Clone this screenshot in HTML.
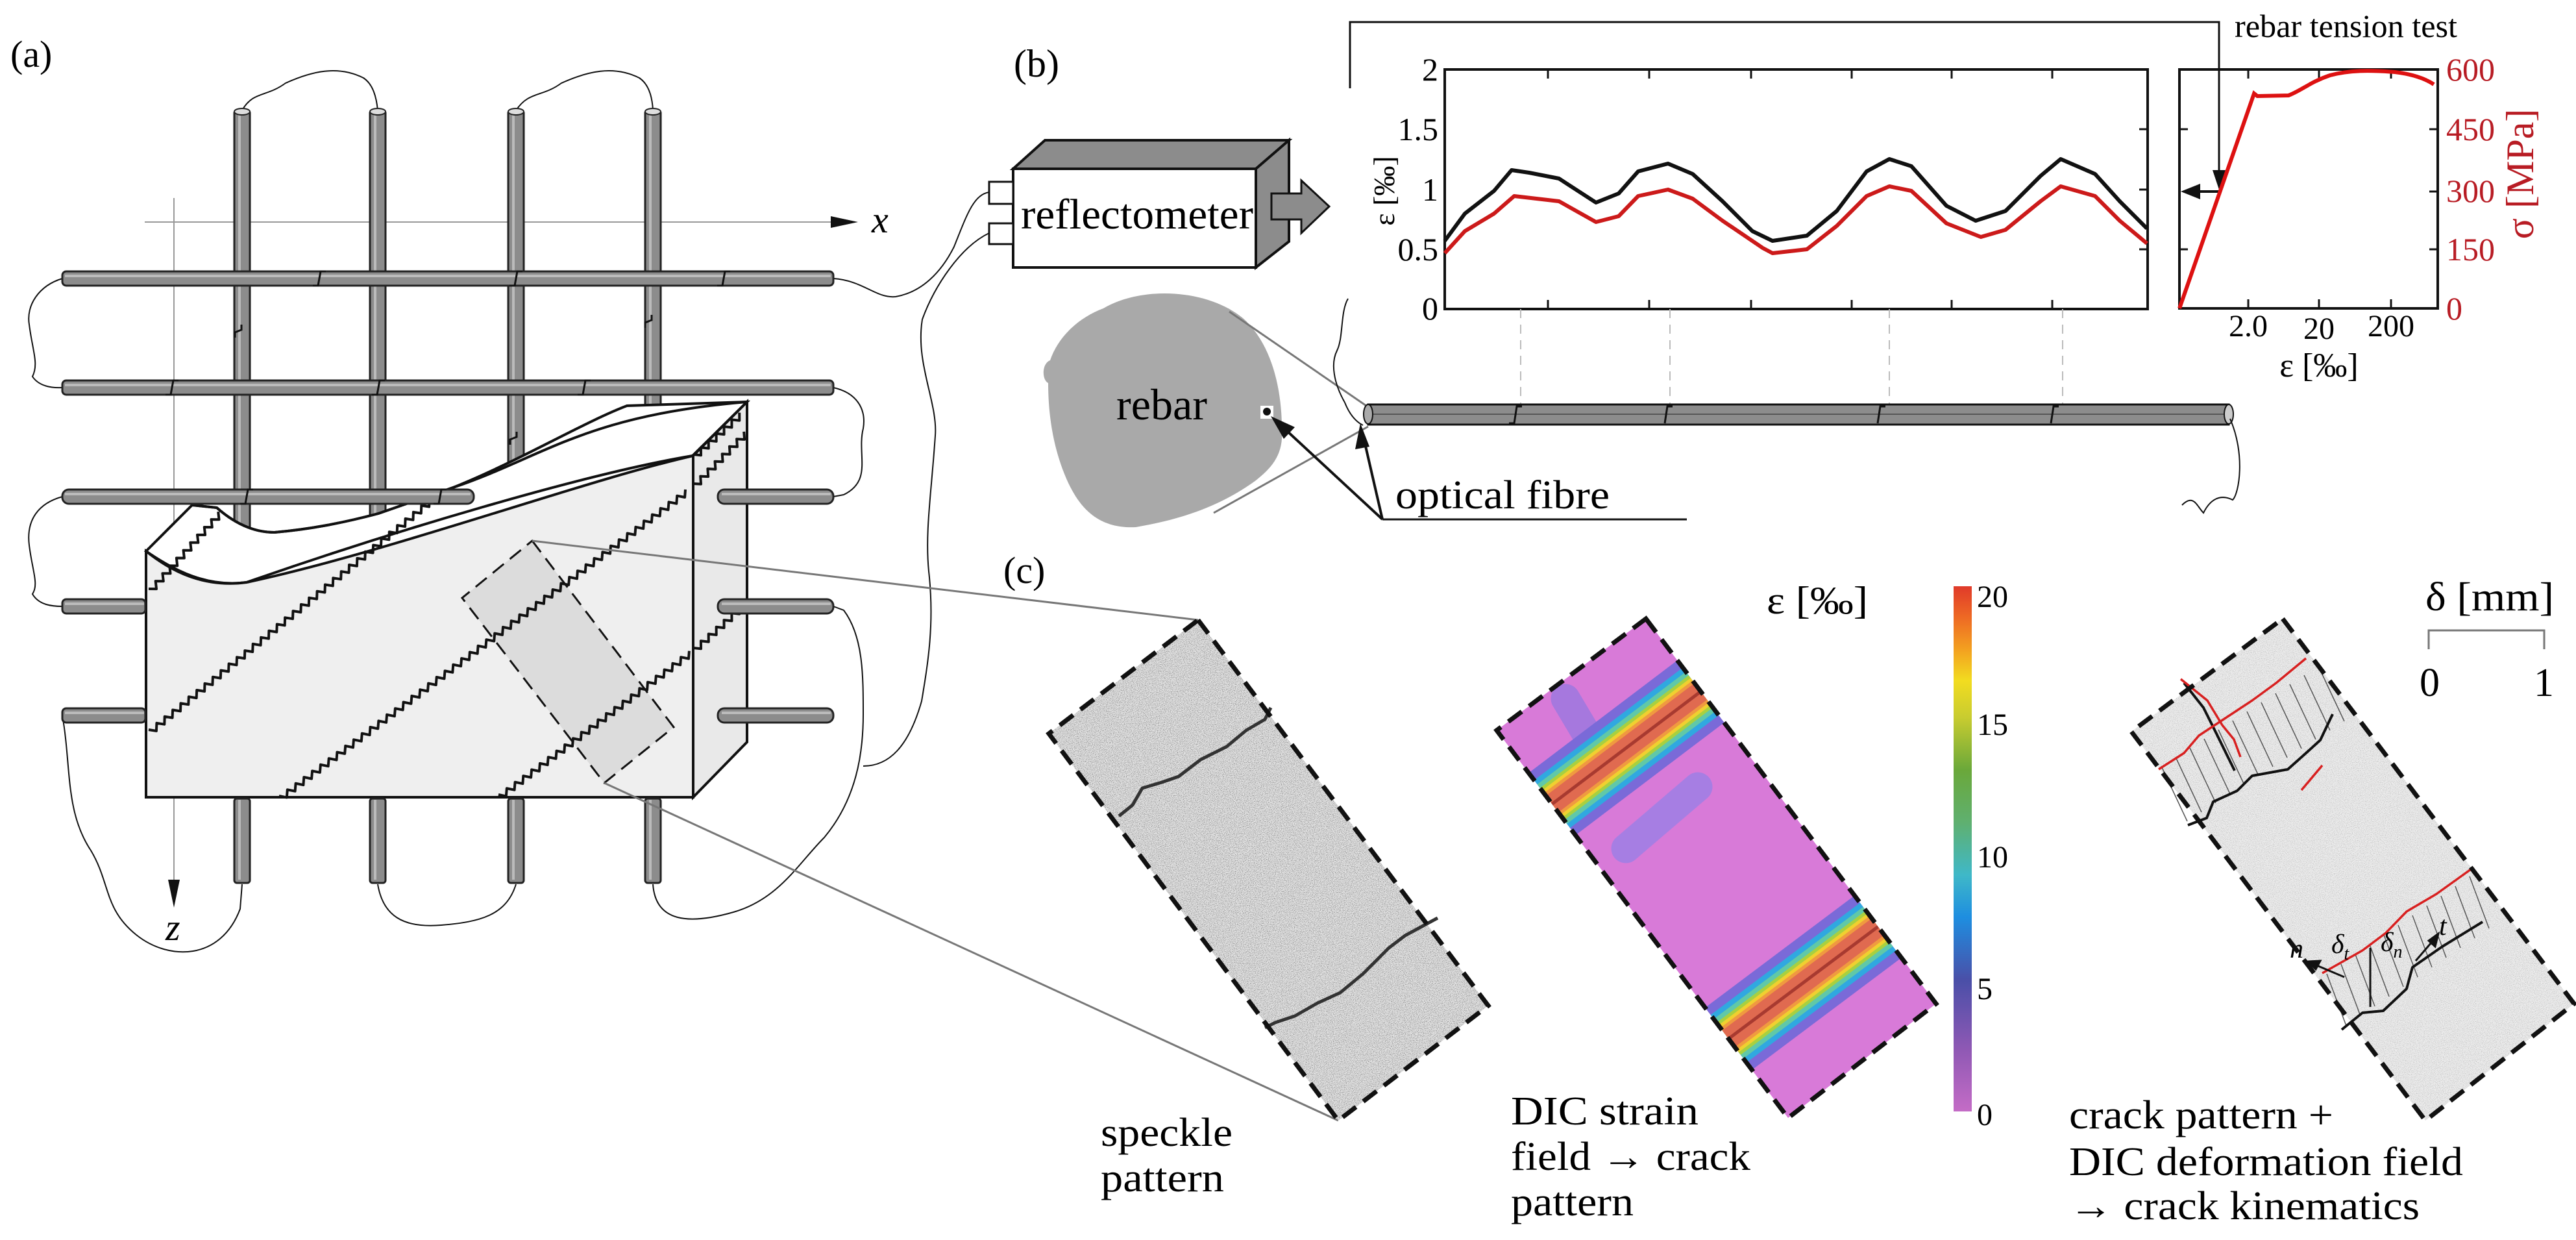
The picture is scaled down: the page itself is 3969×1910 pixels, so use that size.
<!DOCTYPE html>
<html><head><meta charset="utf-8"><style>
html,body{margin:0;padding:0;background:#fff;}
svg{display:block;}
</style></head><body>
<svg id="s" width="3969" height="1910" viewBox="0 0 3969 1910" xmlns="http://www.w3.org/2000/svg" font-family="'Liberation Serif','DejaVu Serif',serif">
<defs>
<linearGradient id="cb" x1="0" y1="1" x2="0" y2="0">
<stop offset="0" stop-color="#c46cc6"/><stop offset="0.12" stop-color="#8e58b4"/>
<stop offset="0.25" stop-color="#4a4fa8"/><stop offset="0.37" stop-color="#1e8ee0"/>
<stop offset="0.45" stop-color="#3fb8c8"/><stop offset="0.55" stop-color="#5fb070"/>
<stop offset="0.65" stop-color="#6aa83a"/><stop offset="0.75" stop-color="#c8cc30"/>
<stop offset="0.82" stop-color="#f2dc20"/><stop offset="0.88" stop-color="#f3a020"/>
<stop offset="0.94" stop-color="#ee6a24"/><stop offset="1" stop-color="#e03a2a"/>
</linearGradient>
<clipPath id="dicclip"><polygon points="2536,953 2983,1546 2755,1722 2306,1125"/></clipPath>
<filter id="noise" x="0" y="0" width="100%" height="100%">
<feTurbulence type="fractalNoise" baseFrequency="0.9" numOctaves="1" seed="3"/>
<feColorMatrix type="matrix" values="0 0 0 0 0  0 0 0 0 0  0 0 0 0 0  0 0 0 -3.2 1.7"/>
<feComposite in2="SourceGraphic" operator="in"/>
</filter>
</defs>

<!-- ===== (a) ===== -->
<text x="16" y="103" font-size="58">(a)</text>
<line x1="223" y1="342" x2="1300" y2="342" stroke="#999" stroke-width="2"/>
<polygon points="1280,333 1322,342 1280,351" fill="#111"/>
<text x="1343" y="358" font-size="58" font-style="italic">x</text>
<line x1="268" y1="305" x2="268" y2="1370" stroke="#999" stroke-width="2"/>
<polygon points="259,1355 268,1398 277,1355" fill="#111"/>
<text x="255" y="1448" font-size="58" font-style="italic">z</text>

<g fill="none" stroke="#111" stroke-width="2">
<path d="M373,170 C390,140 410,150 440,128 C480,110 520,100 560,120 C575,130 580,150 582,170"/>
<path d="M795,170 C815,140 835,150 865,128 C905,110 945,100 985,120 C1000,130 1005,150 1006,170"/>
<path d="M96,429 C60,440 40,470 45,500 C50,540 60,560 50,580 C60,595 80,598 96,597"/>
<path d="M96,765 C60,775 40,800 45,840 C50,880 60,900 50,915 C60,932 80,934 96,934"/>
<path d="M96,1102 C110,1180 100,1250 140,1310 C170,1360 160,1400 210,1440 C260,1480 340,1480 370,1400 L373,1362"/>
<path d="M582,1362 C590,1410 620,1430 680,1425 C740,1420 780,1410 795,1362"/>
<path d="M1006,1362 C1010,1420 1060,1425 1130,1405 C1200,1385 1230,1330 1270,1290 C1320,1230 1330,1160 1330,1100 C1330,1040 1330,980 1300,940 L1284,934"/>
<path d="M1284,597 C1320,605 1335,630 1330,660 C1320,700 1345,740 1300,762 L1284,765"/>
<path d="M1284,429 C1330,432 1350,460 1380,457 C1420,450 1450,420 1470,380 C1490,330 1500,300 1524,296"/>
<path d="M1524,359 C1480,380 1440,440 1421,492 C1410,560 1445,620 1441,671 C1435,760 1425,820 1431,880 C1440,960 1430,1020 1420,1080 C1400,1150 1370,1180 1330,1180"/>
</g>

<g fill="#8c8c8c" stroke="#222" stroke-width="3">
<rect x="361" y="170" width="24" height="686" rx="4"/>
<rect x="570" y="170" width="24" height="648" rx="4"/>
<rect x="783" y="170" width="24" height="574" rx="4"/>
<rect x="994" y="170" width="24" height="506" rx="4"/>
</g>
<g stroke="#bbb" stroke-width="4">
<line x1="369" y1="175" x2="369" y2="850"/><line x1="578" y1="175" x2="578" y2="812"/>
<line x1="791" y1="175" x2="791" y2="738"/><line x1="1002" y1="175" x2="1002" y2="670"/>
</g>
<g fill="#ddd" stroke="#222" stroke-width="2">
<ellipse cx="373" cy="172" rx="12" ry="5"/><ellipse cx="582" cy="172" rx="12" ry="5"/>
<ellipse cx="795" cy="172" rx="12" ry="5"/><ellipse cx="1006" cy="172" rx="12" ry="5"/>
</g>

<!-- box -->
<path d="M225,849 L296,778 L334,782 C360,805 390,820 423,820 C480,815 530,805 583,791 L698,751 C800,710 900,650 966,625 L1151,619 L1067,702 C900,730 600,820 380,897 C320,905 270,880 225,849 Z" fill="#fff" stroke="#111" stroke-width="4"/>
<path d="M225,849 C270,885 320,905 380,897 C600,850 900,740 1068,702 L1068,1228 L225,1228 Z" fill="#efefef" stroke="#111" stroke-width="4"/>
<path d="M1068,702 L1151,619 L1151,1143 L1068,1228 Z" fill="#e9e9e9" stroke="#111" stroke-width="4"/>
<path d="M296,778 L334,782 C360,805 390,820 423,820 C480,815 530,805 583,791 L698,751 C838,704 900,640 1151,619" fill="none" stroke="#111" stroke-width="4"/>
<polygon points="820,833 1038,1120 931,1206 712,921" fill="#dcdcdc" stroke="#111" stroke-width="3" stroke-dasharray="22,12"/>
<g id="zz" fill="none" stroke="#111" stroke-width="4" stroke-linejoin="round"></g>

<g fill="#8c8c8c" stroke="#222" stroke-width="3">
<rect x="361" y="1230" width="24" height="130" rx="4"/><rect x="570" y="1230" width="24" height="130" rx="4"/>
<rect x="783" y="1230" width="24" height="130" rx="4"/><rect x="994" y="1230" width="24" height="130" rx="4"/>
</g>
<g stroke="#bbb" stroke-width="4">
<line x1="369" y1="1232" x2="369" y2="1355"/><line x1="578" y1="1232" x2="578" y2="1355"/>
<line x1="791" y1="1232" x2="791" y2="1355"/><line x1="1002" y1="1232" x2="1002" y2="1355"/>
</g>

<g fill="#8c8c8c" stroke="#222" stroke-width="3">
<rect x="96" y="418" width="1188" height="22" rx="6"/>
<rect x="96" y="586" width="1188" height="22" rx="6"/>
<rect x="96" y="754" width="634" height="22" rx="10"/>
<rect x="1106" y="754" width="178" height="22" rx="10"/>
<rect x="96" y="923" width="128" height="22" rx="6"/>
<rect x="1106" y="923" width="178" height="22" rx="10"/>
<rect x="96" y="1091" width="128" height="22" rx="6"/>
<rect x="1106" y="1091" width="178" height="22" rx="10"/>
</g>
<g stroke="#bbb" stroke-width="4">
<line x1="100" y1="425" x2="1280" y2="425"/><line x1="100" y1="593" x2="1280" y2="593"/>
<line x1="100" y1="761" x2="725" y2="761"/><line x1="1112" y1="761" x2="1280" y2="761"/>
<line x1="100" y1="930" x2="222" y2="930"/><line x1="1112" y1="930" x2="1280" y2="930"/>
<line x1="100" y1="1098" x2="222" y2="1098"/><line x1="1112" y1="1098" x2="1280" y2="1098"/>
</g>
<g fill="none" stroke="#111" stroke-width="3">
<path d="M482,440 l8,0 l4,-22 l8,0"/><path d="M785,440 l8,0 l4,-22 l8,0"/><path d="M1105,440 l8,0 l4,-22 l8,0"/>
<path d="M255,608 l8,0 l4,-22 l8,0"/><path d="M573,608 l8,0 l4,-22 l8,0"/><path d="M890,608 l8,0 l4,-22 l8,0"/>
<path d="M372,500 l0,8 l-10,4 l0,8"/><path d="M1004,485 l0,8 l-10,4 l0,8"/><path d="M796,665 l0,8 l-10,4 l0,8"/>
<path d="M370,776 l8,0 l4,-22 l8,0"/><path d="M668,776 l8,0 l4,-22 l8,0"/>
</g>
<line x1="820" y1="833" x2="1846" y2="955" stroke="#777" stroke-width="3"/>
<line x1="931" y1="1206" x2="2062" y2="1726" stroke="#777" stroke-width="3"/>

<!-- ===== (b) ===== -->
<text x="1562" y="118" font-size="60">(b)</text>
<polygon points="1561,260 1610,216 1986,216 1935,260" fill="#8c8c8c" stroke="#111" stroke-width="4"/>
<polygon points="1935,260 1986,216 1986,372 1935,412" fill="#8c8c8c" stroke="#111" stroke-width="4"/>
<rect x="1561" y="260" width="374" height="152" fill="#fff" stroke="#111" stroke-width="4"/>
<rect x="1524" y="280" width="37" height="34" fill="#fff" stroke="#111" stroke-width="3"/>
<rect x="1524" y="344" width="37" height="32" fill="#fff" stroke="#111" stroke-width="3"/>
<polygon points="1959,298 2005,298 2005,278 2048,318 2005,359 2005,338 1959,338" fill="#8c8c8c" stroke="#111" stroke-width="3"/>
<text x="1573" y="352" font-size="66" textLength="358" lengthAdjust="spacingAndGlyphs">reflectometer</text>

<polyline points="2080,136 2080,34 3419,34 3419,270" fill="none" stroke="#111" stroke-width="3"/>
<polygon points="3409,262 3429,262 3419,292" fill="#111"/>
<line x1="3419" y1="295" x2="3378" y2="295" stroke="#111" stroke-width="4"/>
<polygon points="3360,295 3390,283 3390,307" fill="#111"/>
<text x="3443" y="57" font-size="50" textLength="343" lengthAdjust="spacingAndGlyphs">rebar tension test</text>

<rect x="2226" y="107" width="1083" height="369" fill="none" stroke="#111" stroke-width="4"/>
<g stroke="#111" stroke-width="3">
<line x1="2385" y1="476" x2="2385" y2="462"/><line x1="2541" y1="476" x2="2541" y2="462"/><line x1="2698" y1="476" x2="2698" y2="462"/><line x1="2853" y1="476" x2="2853" y2="462"/><line x1="3007" y1="476" x2="3007" y2="462"/><line x1="3162" y1="476" x2="3162" y2="462"/>
<line x1="2385" y1="107" x2="2385" y2="121"/><line x1="2541" y1="107" x2="2541" y2="121"/><line x1="2698" y1="107" x2="2698" y2="121"/><line x1="2853" y1="107" x2="2853" y2="121"/><line x1="3007" y1="107" x2="3007" y2="121"/><line x1="3162" y1="107" x2="3162" y2="121"/>
<line x1="3309" y1="199" x2="3296" y2="199"/><line x1="3309" y1="292" x2="3296" y2="292"/><line x1="3309" y1="384" x2="3296" y2="384"/>
</g>
<g font-size="50" text-anchor="end">
<text x="2216" y="124">2</text><text x="2216" y="216">1.5</text><text x="2216" y="309">1</text><text x="2216" y="401">0.5</text><text x="2216" y="492">0</text>
</g>
<text transform="translate(2148,294) rotate(-90)" font-size="46" text-anchor="middle">ε [‰]</text>
<g stroke="#bbb" stroke-width="2" stroke-dasharray="14,10">
<line x1="2343" y1="476" x2="2343" y2="625"/><line x1="2573" y1="476" x2="2573" y2="625"/>
<line x1="2911" y1="476" x2="2911" y2="625"/><line x1="3178" y1="476" x2="3178" y2="625"/>
</g>
<polyline fill="none" stroke="#111" stroke-width="6" stroke-linejoin="round" points="2226,371 2257,329 2302,294 2329,262 2356,266 2402,275 2459,312 2494,298 2524,264 2570,252 2608,268 2654,310 2700,356 2731,371 2784,363 2830,325 2876,264 2911,245 2945,256 2999,317 3044,340 3090,325 3144,271 3175,245 3228,268 3266,310 3308,352"/>
<polyline fill="none" stroke="#cc1a1a" stroke-width="6" stroke-linejoin="round" points="2226,390 2257,356 2302,329 2333,302 2402,310 2459,342 2494,333 2524,302 2570,292 2608,306 2654,340 2716,382 2731,390 2784,384 2830,348 2876,302 2911,287 2945,294 2999,344 3052,365 3090,354 3144,310 3175,287 3228,302 3266,340 3308,375"/>

<rect x="3358" y="107" width="398" height="368" fill="none" stroke="#111" stroke-width="4"/>
<g stroke="#111" stroke-width="3">
<line x1="3464" y1="475" x2="3464" y2="461"/><line x1="3573" y1="475" x2="3573" y2="461"/><line x1="3684" y1="475" x2="3684" y2="461"/>
<line x1="3464" y1="107" x2="3464" y2="121"/><line x1="3573" y1="107" x2="3573" y2="121"/><line x1="3684" y1="107" x2="3684" y2="121"/>
<line x1="3358" y1="199" x2="3371" y2="199"/><line x1="3358" y1="384" x2="3371" y2="384"/>
<line x1="3756" y1="199" x2="3743" y2="199"/><line x1="3756" y1="295" x2="3743" y2="295"/><line x1="3756" y1="384" x2="3743" y2="384"/>
</g>
<path d="M3358,475 L3473,144 L3478,148 L3526,147 C3545,140 3560,126 3590,116 C3620,108 3650,108 3690,111 C3715,114 3735,120 3750,130" fill="none" stroke="#dd1111" stroke-width="6"/>
<g font-size="50" fill="#b81c24">
<text x="3769" y="124">600</text><text x="3769" y="216">450</text><text x="3769" y="311">300</text><text x="3769" y="401">150</text><text x="3769" y="492">0</text>
</g>
<text transform="translate(3903,268) rotate(-90)" font-size="60" fill="#b81c24" text-anchor="middle">σ [MPa]</text>
<g font-size="48" text-anchor="middle">
<text x="3464" y="518">2.0</text><text x="3573" y="522">20</text><text x="3684" y="518">200</text>
</g>
<text x="3573" y="580" font-size="52" text-anchor="middle">ε [‰]</text>

<path d="M1700,475 C1760,440 1860,445 1915,490 C1960,530 1975,600 1975,660 C1978,700 1960,720 1935,740 C1880,780 1820,800 1750,812 C1690,815 1660,780 1640,730 C1620,680 1615,630 1615,590 C1605,585 1605,560 1618,555 C1630,520 1660,490 1700,475 Z" fill="#a9a9a9"/>
<text x="1720" y="646" font-size="68" textLength="140" lengthAdjust="spacingAndGlyphs">rebar</text>
<rect x="1942" y="625" width="20" height="20" fill="#fff"/>
<circle cx="1952" cy="634" r="6" fill="#111"/>
<line x1="1894" y1="480" x2="2108" y2="627" stroke="#777" stroke-width="3"/>
<line x1="1870" y1="790" x2="2108" y2="657" stroke="#777" stroke-width="3"/>
<rect x="2108" y="623" width="1326" height="31" fill="#8c8c8c" stroke="#111" stroke-width="3"/>
<line x1="2110" y1="638" x2="3432" y2="638" stroke="#555" stroke-width="2"/>
<ellipse cx="3434" cy="638" rx="7" ry="15" fill="#ccc" stroke="#111" stroke-width="2"/>
<ellipse cx="2108" cy="638" rx="7" ry="15" fill="#aaa" stroke="#111" stroke-width="2"/>
<g fill="none" stroke="#111" stroke-width="3">
<path d="M2325,652 l8,0 l4,-26 l8,0"/><path d="M2565,652 l4,-26 l8,0"/><path d="M2893,652 l4,-26 l8,0"/><path d="M3160,652 l4,-26 l8,0"/>
</g>
<path d="M3436,645 C3460,700 3450,760 3440,770 C3420,760 3405,770 3395,790 C3385,780 3380,760 3362,778" fill="none" stroke="#111" stroke-width="2"/>
<path d="M2077,460 C2065,480 2070,520 2060,540 C2050,560 2055,590 2072,620 C2080,640 2090,650 2100,655" fill="none" stroke="#111" stroke-width="2"/>
<line x1="2130" y1="800" x2="2599" y2="800" stroke="#111" stroke-width="3"/>
<line x1="2130" y1="800" x2="1968" y2="650" stroke="#111" stroke-width="4"/>
<polygon points="1958,641 1995,658 1978,676" fill="#111"/>
<line x1="2130" y1="800" x2="2100" y2="670" stroke="#111" stroke-width="4"/>
<polygon points="2096,652 2110,688 2088,692" fill="#111"/>
<text x="2150" y="783" font-size="62" textLength="330" lengthAdjust="spacingAndGlyphs">optical fibre</text>

<!-- ===== (c) ===== -->
<text x="1546" y="898" font-size="58">(c)</text>
<polygon points="1846,955 2293,1549 2062,1726 1616,1130" fill="#e2e2e2"/>
<polygon points="1846,955 2293,1549 2062,1726 1616,1130" fill="#fff" filter="url(#noise)" opacity="0.45"/>
<g fill="none" stroke="#333" stroke-width="5" stroke-linejoin="round">
<path d="M1724,1257 L1745,1240 L1760,1214 L1790,1205 L1816,1196 L1850,1170 L1890,1150 L1920,1125 L1949,1108 L1958,1090"/>
<path d="M1949,1583 L1965,1575 L1995,1565 L2030,1545 L2065,1529 L2100,1500 L2140,1460 L2165,1441 L2215,1414"/>
</g>
<polygon points="1846,955 2293,1549 2062,1726 1616,1130" fill="none" stroke="#111" stroke-width="7" stroke-dasharray="26,14"/>

<polygon points="2536,953 2983,1546 2755,1722 2306,1125" fill="#d87ad8"/>
<g clip-path="url(#dicclip)" fill="none" stroke-linecap="round">
<path d="M2412,1076 L2459,1155" stroke="#9a78e0" stroke-width="45" opacity="0.8"/>
<path d="M2505,1307 L2616,1212" stroke="#9a80e6" stroke-width="45" opacity="0.8"/>
<g id="bands"></g>
</g>
<polygon points="2536,953 2983,1546 2755,1722 2306,1125" fill="none" stroke="#111" stroke-width="7" stroke-dasharray="26,14"/>
<rect x="3010" y="903" width="28" height="809" fill="url(#cb)"/>
<g font-size="48">
<text x="3046" y="935">20</text><text x="3046" y="1132">15</text><text x="3046" y="1336">10</text><text x="3046" y="1539">5</text><text x="3046" y="1733">0</text>
</g>
<text x="2722" y="945" font-size="60" textLength="156" lengthAdjust="spacingAndGlyphs">ε [‰]</text>

<polygon points="3517,953 3966,1546 3737,1726 3284,1127" fill="#ececec"/>
<polygon points="3517,953 3966,1546 3737,1726 3284,1127" fill="#fff" filter="url(#noise)" opacity="0.2"/>
<g stroke="#555" stroke-width="1.5" id="hatch"></g>
<g fill="none" stroke="#111" stroke-width="4" stroke-linejoin="round">
<path d="M3371,1271 L3400,1260 L3410,1235 L3447,1218 L3470,1195 L3525,1185 L3553,1160 L3575,1140 L3594,1100"/>
<path d="M3365,1052 L3395,1090 L3415,1130 L3443,1187"/>
<path d="M3608,1586 L3640,1560 L3672,1557 L3708,1523 L3717,1490 L3763,1458 L3825,1420"/>
</g>
<g fill="none" stroke="#d82020" stroke-width="3.5" stroke-linejoin="round">
<path d="M3326,1185 L3365,1160 L3388,1133 L3429,1106 L3470,1079 L3507,1052 L3553,1014"/>
<path d="M3360,1046 L3401,1079 L3424,1117 L3442,1139 L3452,1166"/>
<path d="M3578,1499 L3640,1464 L3676,1437 L3708,1404 L3754,1377 L3807,1339"/>
<path d="M3546,1217 L3578,1179"/>
</g>
<g fill="none" stroke="#111" stroke-width="3">
<line x1="3612" y1="1505" x2="3560" y2="1483"/><polygon points="3556,1481 3575,1480 3568,1493" fill="#111"/>
<line x1="3652" y1="1551" x2="3652" y2="1460"/>
<line x1="3722" y1="1480" x2="3752" y2="1445"/><polygon points="3757,1438 3752,1458 3742,1449" fill="#111"/>
</g>
<g font-size="42" font-style="italic">
<text x="3528" y="1475">n</text><text x="3592" y="1468">δ<tspan font-size="28" dy="10">t</tspan></text>
<text x="3668" y="1465">δ<tspan font-size="28" dy="10">n</tspan></text><text x="3758" y="1440">t</text>
</g>
<polygon points="3517,953 3966,1546 3737,1726 3284,1127" fill="none" stroke="#111" stroke-width="7" stroke-dasharray="26,14"/>
<text x="3737" y="940" font-size="62" textLength="198" lengthAdjust="spacingAndGlyphs">δ [mm]</text>
<polyline points="3742,1000 3742,971 3920,971 3920,1000" fill="none" stroke="#777" stroke-width="3"/>
<text x="3728" y="1072" font-size="62">0</text><text x="3904" y="1072" font-size="62">1</text>

<g font-size="62">
<text x="1696" y="1765" textLength="203" lengthAdjust="spacingAndGlyphs">speckle</text>
<text x="1696" y="1835" textLength="190" lengthAdjust="spacingAndGlyphs">pattern</text>
<text x="2328" y="1732" textLength="289" lengthAdjust="spacingAndGlyphs">DIC strain</text>
<text x="2328" y="1802" textLength="369" lengthAdjust="spacingAndGlyphs">field → crack</text>
<text x="2328" y="1872" textLength="189" lengthAdjust="spacingAndGlyphs">pattern</text>
<text x="3188" y="1738" textLength="407" lengthAdjust="spacingAndGlyphs">crack pattern +</text>
<text x="3188" y="1810" textLength="607" lengthAdjust="spacingAndGlyphs">DIC deformation field</text>
<text x="3188" y="1878" textLength="540" lengthAdjust="spacingAndGlyphs">→ crack kinematics</text>
</g>
</svg>
<script>
(function(){
var NS="http://www.w3.org/2000/svg";
function zz(x1,y1,x2,y2,amp,per){
 var dx=x2-x1,dy=y2-y1,L=Math.hypot(dx,dy),ux=dx/L,uy=dy/L,nx=-uy,ny=ux;
 var n=Math.floor(L/per),d="M"+x1+","+y1;
 for(var i=0;i<n;i++){
  var t0=i*per, t1=t0+per*0.5, t2=t0+per;
  d+=" L"+(x1+ux*t1+nx*amp).toFixed(1)+","+(y1+uy*t1+ny*amp).toFixed(1);
  d+=" L"+(x1+ux*t2).toFixed(1)+","+(y1+uy*t2).toFixed(1);
 }
 return d;
}
var g=document.getElementById("zz");
[[229,1124,678,755],[430,1226,1068,745],[1068,745,1151,660],[768,1224,1068,998],[1068,998,1151,923],[229,907,340,784],[1068,700,1151,625]].forEach(function(a){
 var p=document.createElementNS(NS,"path");p.setAttribute("d",zz(a[0],a[1],a[2],a[3],9,16));g.appendChild(p);
});
var b=document.getElementById("bands");
var bands=[[2330,1285,2680,1020],[2610,1640,2930,1400]];
var layers=[["#7a6ad8",120],["#30a8e0",92],["#60c8a8",76],["#a8d040",62],["#f0d030",52],["#f09a40",42],["#e06a50",32],["#a83a30",5]];
bands.forEach(function(l){
 layers.forEach(function(c){
  var p=document.createElementNS(NS,"line");
  p.setAttribute("x1",l[0]);p.setAttribute("y1",l[1]);p.setAttribute("x2",l[2]);p.setAttribute("y2",l[3]);
  p.setAttribute("stroke",c[0]);p.setAttribute("stroke-width",c[1]);b.appendChild(p);
 });
});
var h=document.getElementById("hatch");
for(var i=0;i<12;i++){
 var x=3330+i*22,y=1180-i*14;
 var p=document.createElementNS(NS,"line");p.setAttribute("x1",x);p.setAttribute("y1",y);p.setAttribute("x2",x+40);p.setAttribute("y2",y+85);h.appendChild(p);
}
for(var i=0;i<11;i++){
 var x=3585+i*22,y=1500-i*15;
 var p=document.createElementNS(NS,"line");p.setAttribute("x1",x);p.setAttribute("y1",y);p.setAttribute("x2",x+30);p.setAttribute("y2",y+80);h.appendChild(p);
}
})();
</script>
</body></html>
